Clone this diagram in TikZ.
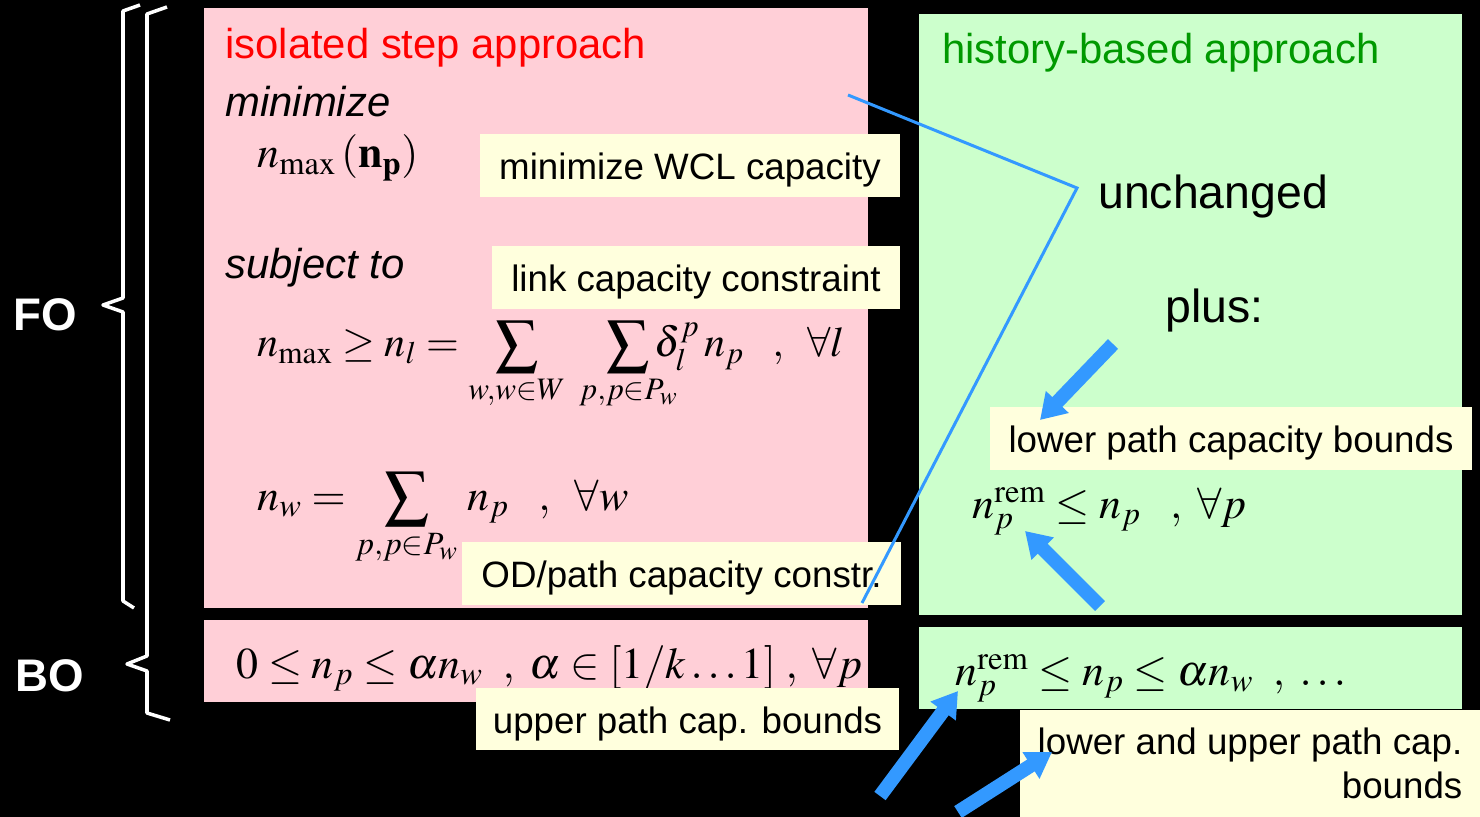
\documentclass[tikz,border=0pt]{standalone}
\usepackage{mathptmx}
\usepackage{mathtools}
\usepackage[no-math]{fontspec}
\setmainfont{Liberation Sans}
\usetikzlibrary{arrows.meta}
\definecolor{pinkbg}{RGB}{255,207,215}
\definecolor{greenbg}{RGB}{204,255,204}
\definecolor{notebg}{RGB}{255,255,221}
\definecolor{arrowblue}{RGB}{51,153,255}
\definecolor{titlered}{RGB}{255,0,0}
\definecolor{titlegreen}{RGB}{0,153,0}

\begin{document}
\begin{tikzpicture}[x=0.02cm, y=-0.02cm,
    txt/.style={anchor=base west, inner sep=0pt},
    head/.style={txt, font=\fontsize{23.8}{28}\selectfont},
    eqn/.style={txt, font=\fontsize{25}{30}\selectfont},
    note/.style={fill=notebg, inner sep=0pt, minimum height=1.26cm, text height=20.9pt, text depth=4.4pt, font=\fontsize{20.9}{25}\selectfont},
    side/.style={txt, text=white, font=\bfseries\fontsize{26}{30}\selectfont},
    brace/.style={white, line width=2pt, line join=round},
    pointer/.style={arrowblue, line width=0.28cm, -{Triangle[length=0.5cm,width=0.6cm]}}]
    \path[fill=black, use as bounding box] (0,0) rectangle (1480,817);

    \fill[pinkbg] (204,8) rectangle (868,608);
    \fill[pinkbg] (204,620) rectangle (868,702);
    \fill[greenbg] (919,14) rectangle (1462,615);
    \fill[greenbg] (919,627) rectangle (1462,709);

    \draw[brace] (140,5) -- (123,11) -- (123,298) -- (103,305) -- (123,312) -- (123,601) -- (134,608);
    \draw[brace] (167,7) -- (147,14) -- (147,656) -- (127,664) -- (147,671) -- (147,713) -- (170,720);
    \node[side] (fo) at (13,331) {FO};
    \node[side] (bo) at (15,691) {BO};

    \node[head, text=titlered] (isotitle) at (225,59) {isolated step approach};
    \node[head, font=\itshape\fontsize{23.8}{28}\selectfont] (minword) at (225,117) {minimize};
    \node[eqn] (objfn) at (257,168) {$n_{\max}\,(\mathbf{n}_{\mathbf{p}})$};
    \node[head, font=\itshape\fontsize{23.8}{28}\selectfont] (subjword) at (225,279) {subject to};
    \node[eqn, font=\fontsize{24}{29}\selectfont] (linkeq) at (257,357) {$n_{\max} \geq n_l = \displaystyle\sum_{w,w\in W}\;\smashoperator[r]{\sum_{p,p\in P_w}}\delta_l^p\, n_p \;\;\;,\;\;\forall l$};
    \node[eqn] (odeq) at (257,510) {$n_w = \displaystyle\sum_{p,p\in P_w}\, n_p \;\;\;,\;\;\forall w$};
    \node[eqn] (boeq) at (236,678) {$0 \leq n_p \leq \alpha n_w \;\;,\;\alpha \in [1/k \ldots 1] \;,\;\forall p$};

    \node[note, minimum width=8.4cm] (wclnote) at (690,165.5) {minimize WCL capacity};
    \node[note, minimum width=8.16cm] (linknote) at (696,277.5) {link capacity constraint};
    \node[note, minimum width=8.78cm] (odnote) at (681.5,573.5) {OD/path capacity constr.};
    \node[note, minimum width=8.46cm] (uppernote) at (687.5,719) {upper path cap. bounds};

    \node[head, text=titlegreen] (histtitle) at (942,64) {history-based approach};
    \node[txt, font=\fontsize{26.4}{30}\selectfont] (unchanged) at (1098,209) {unchanged};
    \node[txt, font=\fontsize{26.4}{30}\selectfont] (plus) at (1165,323) {plus:};
    \node[note, minimum width=9.64cm] (lowernote) at (1231,438.5) {lower path capacity bounds};
    \node[eqn] (remeq) at (972,518) {$n_p^{\mathrm{rem}} \leq n_p \;\;\;,\;\forall p$};
    \node[eqn] (boremeq) at (955,685) {$n_p^{\mathrm{rem}} \leq n_p \leq \alpha n_w \;\;,\;\ldots$};
    \node[note, minimum width=9.2cm, minimum height=2.14cm, text height=, text depth=, align=right] (bothnote) at (1250,763.5) {lower and upper path cap.\\bounds};

    \coordinate (linestart) at (848,95);
    \coordinate (linebend) at (1077,188);
    \coordinate (lineend) at (862,603);
    \draw[arrowblue, line width=0.06cm] (linestart) -- (linebend) -- (lineend);

    \coordinate (tailA) at (1113,344);
    \coordinate (tipA) at (1040,420);
    \coordinate (tailB) at (1100,606);
    \coordinate (tipB) at (1025,531);
    \coordinate (tailC) at (880,796);
    \coordinate (tipC) at (958,691);
    \coordinate (tailD) at (958,812);
    \coordinate (tipD) at (1052,752);
    \draw[pointer] (tailA) -- (tipA);
    \draw[pointer] (tailB) -- (tipB);
    \draw[pointer] (tailC) -- (tipC);
    \draw[pointer] (tailD) -- (tipD);
\end{tikzpicture}
\end{document}
